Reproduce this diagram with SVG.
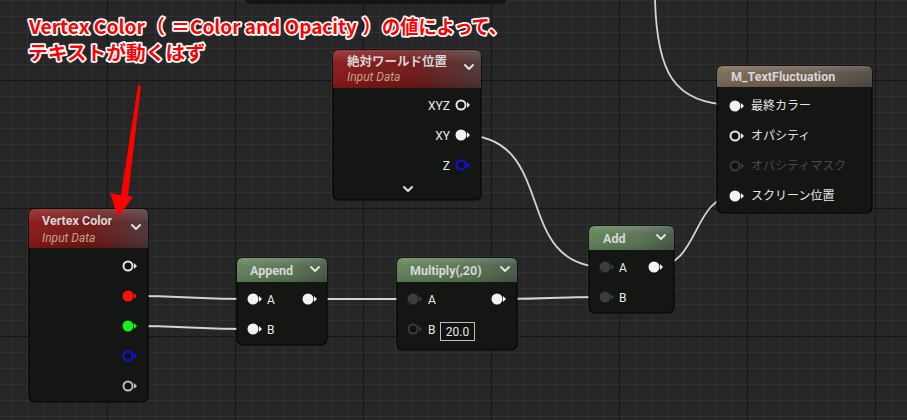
<svg xmlns="http://www.w3.org/2000/svg" width="907" height="420" viewBox="0 0 907 420">
<defs>
<pattern id="minor" x="11" y="0" width="16" height="16" patternUnits="userSpaceOnUse">
<path d="M0.5 0V16M0 0.5H16" stroke="#303030" stroke-width="1" fill="none"/>
</pattern>
<pattern id="major" x="107" y="80" width="128" height="128" patternUnits="userSpaceOnUse">
<path d="M0.5 0V128M0 0.5H128" stroke="#161616" stroke-width="1" fill="none"/>
</pattern>
<linearGradient id="gRed" x1="0" y1="0" x2="1" y2="0">
<stop offset="0" stop-color="#8a1515"/><stop offset="0.55" stop-color="#6c1515"/><stop offset="1" stop-color="#4a3434"/>
</linearGradient>
<linearGradient id="gGreen" x1="0" y1="0" x2="1" y2="0">
<stop offset="0" stop-color="#5e8257"/><stop offset="0.6" stop-color="#567150"/><stop offset="1" stop-color="#465745"/>
</linearGradient>
<linearGradient id="gBrown" x1="0" y1="0" x2="1" y2="0">
<stop offset="0" stop-color="#7a6752"/><stop offset="0.6" stop-color="#675a4c"/><stop offset="1" stop-color="#4e4742"/>
</linearGradient>
<linearGradient id="gloss" x1="0" y1="0" x2="0" y2="1">
<stop offset="0" stop-color="#ffffff" stop-opacity="0.18"/><stop offset="0.35" stop-color="#ffffff" stop-opacity="0.04"/><stop offset="1" stop-color="#000000" stop-opacity="0.1"/>
</linearGradient>
</defs>
<style>
.body{fill:#141614;stroke:#050505;stroke-width:1.2}
.title{font-family:Roboto,"Noto Sans CJK JP",sans-serif;font-weight:bold;font-size:12.5px;fill:#d6d6d6}
.sub{font-family:Roboto,sans-serif;font-style:italic;font-size:12px;fill:#c4a08a}
.lbl{font-family:Roboto,"Noto Sans CJK JP",sans-serif;font-size:12px;fill:#e8e8e8}
.dim{fill:#4a4a4a}
.chev{fill:none;stroke:#e0e0e0;stroke-width:2;stroke-linecap:round;stroke-linejoin:round}
.wire{fill:none;stroke:#d4d4d4;stroke-width:1.8}
.anno{font-family:"Noto Sans CJK JP",sans-serif;font-weight:bold;font-size:19px;fill:#ff0000;stroke:#ffffff;stroke-width:3.5;stroke-linejoin:round;paint-order:stroke}
</style>
<rect width="907" height="420" fill="#262626"/>
<rect width="907" height="420" fill="url(#minor)"/>
<rect width="907" height="420" fill="url(#major)"/>

<g id="top-node">
<rect x="245" y="-20" width="262" height="24" rx="6" fill="#141614"/>
</g>

<g id="connectors">
<path class="wire" d="M128 296C190 296 190 299 253 299"/>
<path class="wire" d="M128 326C190 326 190 329 253 329"/>
<path class="wire" d="M308 299H413"/>
<path class="wire" d="M497 299C550 299 550 297 605 297"/>
<path class="wire" d="M462 135C560 135 510 267 605 267"/>
<path class="wire" d="M654 267C700 267 692 196 735 196"/>
<path class="wire" d="M655 0C657 70 672 105 735 105"/>
</g>

<g id="vertex-color">
<rect class="body" x="29" y="209" width="119" height="193" rx="6"/>
<path d="M29 248V215Q29 209 35 209H142Q148 209 148 215V248Z" fill="url(#gRed)"/>
<path d="M29 248V215Q29 209 35 209H142Q148 209 148 215V248Z" fill="url(#gloss)"/>
<text class="title" x="42" y="225">Vertex Color</text>
<text class="sub" x="42" y="242">Input Data</text>
<path class="chev" d="M132 225L136 229L140 225"/>
<circle cx="128" cy="266" r="4.5" fill="#111" stroke="#e6e6e6" stroke-width="2"/><path d="M134 263L137 266L134 269Z" fill="#e6e6e6"/>
<circle cx="128" cy="296" r="5.5" fill="#ff0d0d"/><path d="M134 293L137 296L134 299Z" fill="#ff0d0d"/>
<circle cx="128" cy="326" r="5.5" fill="#17f017"/><path d="M134 323L137 326L134 329Z" fill="#17f017"/>
<circle cx="128" cy="356" r="4.5" fill="#111" stroke="#1010e6" stroke-width="2"/><path d="M134 353L137 356L134 359Z" fill="#1010e6"/>
<circle cx="128" cy="386" r="4.5" fill="#111" stroke="#bdbdbd" stroke-width="2"/><path d="M134 383L137 386L134 389Z" fill="#bdbdbd"/>
</g>

<g id="world-position">
<rect class="body" x="333" y="50" width="148" height="150" rx="6"/>
<path d="M333 88V56Q333 50 339 50H475Q481 50 481 56V88Z" fill="url(#gRed)"/>
<path d="M333 88V56Q333 50 339 50H475Q481 50 481 56V88Z" fill="url(#gloss)"/>
<text class="title" x="347" y="66">絶対ワールド位置</text>
<text class="sub" x="347" y="81">Input Data</text>
<path class="chev" d="M465 65L469 69L473 65"/>
<text class="lbl" x="450" y="110" text-anchor="end">XYZ</text>
<circle cx="461" cy="105" r="4.5" fill="#111" stroke="#e6e6e6" stroke-width="2"/><path d="M467 102L470 105L467 108Z" fill="#e6e6e6"/>
<text class="lbl" x="450" y="140" text-anchor="end">XY</text>
<circle cx="461" cy="135" r="5.5" fill="#f2f2f2"/><path d="M467 132L470 135L467 138Z" fill="#f2f2f2"/>
<text class="lbl" x="450" y="170" text-anchor="end">Z</text>
<circle cx="461" cy="165" r="4.5" fill="#111" stroke="#1010e6" stroke-width="2"/><path d="M467 162L470 165L467 168Z" fill="#1010e6"/>
<path class="chev" d="M404 187L408 191L412 187"/>
</g>

<g id="append">
<rect class="body" x="237" y="258" width="90" height="87" rx="6"/>
<path d="M237 282V264Q237 258 243 258H321Q327 258 327 264V282Z" fill="url(#gGreen)"/>
<path d="M237 282V264Q237 258 243 258H321Q327 258 327 264V282Z" fill="url(#gloss)"/>
<text class="title" x="250" y="275">Append</text>
<path class="chev" d="M311 267L315 271L319 267"/>
<circle cx="253" cy="299" r="5.5" fill="#f2f2f2"/><path d="M259 296L262 299L259 302Z" fill="#f2f2f2"/>
<text class="lbl" x="267" y="304">A</text>
<circle cx="308" cy="299" r="5.5" fill="#f2f2f2"/><path d="M314 296L317 299L314 302Z" fill="#f2f2f2"/>
<circle cx="253" cy="329" r="5.5" fill="#f2f2f2"/><path d="M259 326L262 329L259 332Z" fill="#f2f2f2"/>
<text class="lbl" x="267" y="334">B</text>
</g>

<g id="multiply">
<rect class="body" x="397" y="258" width="120" height="92" rx="6"/>
<path d="M397 282V264Q397 258 403 258H511Q517 258 517 264V282Z" fill="url(#gGreen)"/>
<path d="M397 282V264Q397 258 403 258H511Q517 258 517 264V282Z" fill="url(#gloss)"/>
<text class="title" x="410" y="275">Multiply(,20)</text>
<path class="chev" d="M501 267L505 271L509 267"/>
<circle cx="413" cy="299" r="5.5" fill="#3c3c3c"/><path d="M419 296L422 299L419 302Z" fill="#3c3c3c"/>
<text class="lbl" x="428" y="304">A</text>
<circle cx="497" cy="299" r="5.5" fill="#f2f2f2"/><path d="M503 296L506 299L503 302Z" fill="#f2f2f2"/>
<circle cx="413" cy="329" r="4.5" fill="#111" stroke="#3a3a3a" stroke-width="2"/><path d="M419 326L422 329L419 332Z" fill="#3a3a3a"/>
<text class="lbl" x="428" y="334">B</text>
<rect x="440.5" y="322.5" width="34" height="18" fill="#121212" stroke="#bdbdbd" stroke-width="1"/>
<text class="lbl" x="457.5" y="336" text-anchor="middle">20.0</text>
</g>

<g id="add">
<rect class="body" x="589" y="226" width="85" height="87" rx="6"/>
<path d="M589 250V232Q589 226 595 226H668Q674 226 674 232V250Z" fill="url(#gGreen)"/>
<path d="M589 250V232Q589 226 595 226H668Q674 226 674 232V250Z" fill="url(#gloss)"/>
<text class="title" x="603" y="243">Add</text>
<path class="chev" d="M657 235L661 239L665 235"/>
<circle cx="605" cy="267" r="5.5" fill="#3c3c3c"/><path d="M611 264L614 267L611 270Z" fill="#3c3c3c"/>
<text class="lbl" x="619" y="272">A</text>
<circle cx="654" cy="267" r="5.5" fill="#f2f2f2"/><path d="M660 264L663 267L660 270Z" fill="#f2f2f2"/>
<circle cx="605" cy="297" r="5.5" fill="#3c3c3c"/><path d="M611 294L614 297L611 300Z" fill="#3c3c3c"/>
<text class="lbl" x="619" y="302">B</text>
</g>

<g id="m-textfluctuation">
<rect class="body" x="717" y="66" width="155" height="147" rx="6"/>
<path d="M717 87V72Q717 66 723 66H866Q872 66 872 72V87Z" fill="url(#gBrown)"/>
<path d="M717 87V72Q717 66 723 66H866Q872 66 872 72V87Z" fill="url(#gloss)"/>
<text class="title" x="731" y="81">M_TextFluctuation</text>
<circle cx="735" cy="106" r="5.5" fill="#f2f2f2"/><path d="M741 103L744 106L741 109Z" fill="#f2f2f2"/>
<text class="lbl" x="751" y="110">最終カラー</text>
<circle cx="735" cy="136" r="4.5" fill="#111" stroke="#e6e6e6" stroke-width="2"/><path d="M741 133L744 136L741 139Z" fill="#e6e6e6"/>
<text class="lbl" x="751" y="140">オパシティ</text>
<circle cx="735" cy="166" r="4.5" fill="#111" stroke="#3a3a3a" stroke-width="2"/><path d="M741 163L744 166L741 169Z" fill="#3a3a3a"/>
<text class="lbl dim" x="751" y="170">オパシティマスク</text>
<circle cx="735" cy="196" r="5.5" fill="#f2f2f2"/><path d="M741 193L744 196L741 199Z" fill="#f2f2f2"/>
<text class="lbl" x="751" y="200">スクリーン位置</text>
</g>

<g id="annotation">
<text class="anno" y="34"><tspan x="29" textLength="116" lengthAdjust="spacingAndGlyphs">Vertex Color</tspan><tspan x="146">（ </tspan><tspan x="171">＝</tspan><tspan x="190" textLength="167" lengthAdjust="spacingAndGlyphs">Color and Opacity</tspan><tspan x="358"> ）</tspan><tspan x="382" textLength="125" lengthAdjust="spacingAndGlyphs">の値によって、</tspan></text>
<text class="anno" x="28" y="60" textLength="177" lengthAdjust="spacingAndGlyphs">テキストが動くはず</text>
<path d="M138 85L141 86L128 196L133 197L118 217L110 193L121 195Z" fill="#ff0000"/>
</g>
</svg>
